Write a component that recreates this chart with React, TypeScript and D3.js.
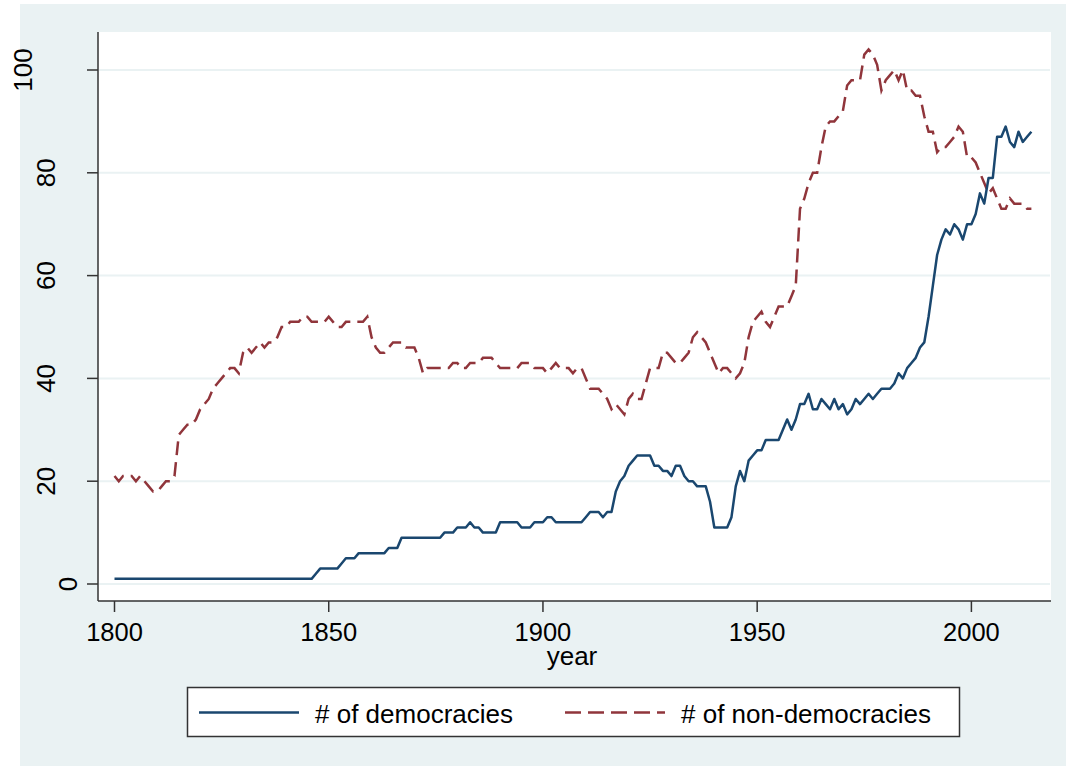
import React, { useRef, useEffect } from 'react';
import * as d3 from 'd3';

// yearly counts, 1800..2014
const startYear = 1800;

const democracies = [
  1, 1, 1, 1, 1, 1, 1, 1, 1, 1,
  1, 1, 1, 1, 1, 1, 1, 1, 1, 1,
  1, 1, 1, 1, 1, 1, 1, 1, 1, 1,
  1, 1, 1, 1, 1, 1, 1, 1, 1, 1,
  1, 1, 1, 1, 1, 1, 1, 2, 3, 3,
  3, 3, 3, 4, 5, 5, 5, 6, 6, 6,
  6, 6, 6, 6, 7, 7, 7, 9, 9, 9,
  9, 9, 9, 9, 9, 9, 9, 10, 10, 10,
  11, 11, 11, 12, 11, 11, 10, 10, 10, 10,
  12, 12, 12, 12, 12, 11, 11, 11, 12, 12,
  12, 13, 13, 12, 12, 12, 12, 12, 12, 12,
  13, 14, 14, 14, 13, 14, 14, 18, 20, 21,
  23, 24, 25, 25, 25, 25, 23, 23, 22, 22,
  21, 23, 23, 21, 20, 20, 19, 19, 19, 16,
  11, 11, 11, 11, 13, 19, 22, 20, 24, 25,
  26, 26, 28, 28, 28, 28, 30, 32, 30, 32,
  35, 35, 37, 34, 34, 36, 35, 34, 36, 34,
  35, 33, 34, 36, 35, 36, 37, 36, 37, 38,
  38, 38, 39, 41, 40, 42, 43, 44, 46, 47,
  52, 58, 64, 67, 69, 68, 70, 69, 67, 70,
  70, 72, 76, 74, 79, 79, 87, 87, 89, 86,
  85, 88, 86, 87, 88,
];

const nonDemocracies = [
  21, 20, 21, 21, 21, 20, 21, 20, 19, 18,
  18, 19, 20, 20, 21, 29, 30, 31, 31, 32,
  34, 35, 36, 38, 39, 40, 41, 42, 42, 41,
  45, 46, 45, 46, 47, 46, 47, 47, 48, 50,
  50, 51, 51, 51, 52, 52, 51, 51, 51, 51,
  52, 51, 50, 50, 51, 51, 51, 51, 51, 52,
  48, 46, 45, 45, 46, 47, 47, 47, 46, 46,
  46, 44, 41, 42, 42, 42, 42, 42, 42, 43,
  43, 42, 42, 43, 43, 43, 44, 44, 44, 43,
  42, 42, 42, 42, 42, 43, 43, 43, 42, 42,
  42, 41, 42, 43, 42, 42, 42, 41, 42, 42,
  40, 38, 38, 38, 37, 36, 34, 35, 34, 33,
  36, 37, 36, 36, 39, 42, 42, 42, 45, 45,
  44, 43, 43, 44, 45, 48, 49, 48, 47, 45,
  43, 41, 42, 42, 41, 40, 41, 43, 48, 51,
  52, 53, 51, 50, 52, 54, 54, 54, 56, 58,
  73, 75, 78, 80, 80, 85, 89, 90, 90, 91,
  92, 97, 98, 98, 98, 103, 104, 103, 101, 96,
  98, 99, 100, 98, 100, 96, 96, 95, 95, 91,
  88, 88, 84, 85, 85, 86, 87, 89, 88, 83,
  83, 82, 80, 78, 76, 77, 75, 73, 73, 75,
  74, 74, 74, 73, 73,
];

const xTicks = [1800, 1850, 1900, 1950, 2000];
const yTicks = [0, 20, 40, 60, 80, 100];
const seriesLabels = ['# of democracies', '# of non-democracies'];

const FONT = '"Liberation Sans", Arial, sans-serif';

const App: React.FC = () => {
  const ref = useRef<SVGSVGElement>(null);

  useEffect(() => {
    if (!ref.current) return;
    const svg = d3.select(ref.current);
    svg.selectAll('*').remove();

    const plot = { left: 98, right: 1051, top: 32, bottom: 601 };

    const x = d3.scaleLinear().domain([1800, 2000]).range([114.5, 971.4]);
    const y = d3.scaleLinear().domain([0, 100]).range([584, 70]);

    const years = d3.range(startYear, startYear + democracies.length);

    // outer graph region
    svg.append('rect')
      .attr('x', 20).attr('y', 4)
      .attr('width', 1046).attr('height', 762)
      .attr('fill', '#eaf2f3');

    svg.append('rect')
      .attr('x', plot.left).attr('y', plot.top)
      .attr('width', plot.right - plot.left)
      .attr('height', plot.bottom - plot.top)
      .attr('fill', '#ffffff');

    // grid
    svg.append('g').selectAll('line')
      .data(yTicks)
      .enter().append('line')
      .attr('x1', plot.left + 1).attr('x2', plot.right - 1)
      .attr('y1', d => y(d)).attr('y2', d => y(d))
      .attr('stroke', '#eaf2f3')
      .attr('stroke-width', 2);

    // series
    const line = d3.line<number>()
      .x((_, i) => x(years[i]))
      .y(d => y(d));

    svg.append('path')
      .datum(nonDemocracies)
      .attr('d', line)
      .attr('fill', 'none')
      .attr('stroke', '#90353b')
      .attr('stroke-width', 2.5)
      .attr('stroke-dasharray', '14 7');

    svg.append('path')
      .datum(democracies)
      .attr('d', line)
      .attr('fill', 'none')
      .attr('stroke', '#1a476f')
      .attr('stroke-width', 2.5)
      .attr('stroke-linejoin', 'round');

    // axes
    const axisColor = '#333333';
    svg.append('line')
      .attr('x1', plot.left).attr('x2', plot.left)
      .attr('y1', plot.top).attr('y2', plot.bottom)
      .attr('stroke', axisColor).attr('stroke-width', 1.5);
    svg.append('line')
      .attr('x1', plot.left).attr('x2', plot.right)
      .attr('y1', plot.bottom).attr('y2', plot.bottom)
      .attr('stroke', axisColor).attr('stroke-width', 1.5);

    const yt = svg.append('g');
    yt.selectAll('line')
      .data(yTicks)
      .enter().append('line')
      .attr('x1', plot.left - 11).attr('x2', plot.left)
      .attr('y1', d => y(d)).attr('y2', d => y(d))
      .attr('stroke', axisColor).attr('stroke-width', 1.5);
    yt.selectAll('text')
      .data(yTicks)
      .enter().append('text')
      .attr('transform', d => {
        const bx = 77 - (String(d).length - 1) * 22.5;
        return `translate(${bx},${y(d)}) rotate(-90)`;
      })
      .attr('text-anchor', 'middle')
      .attr('font-family', FONT)
      .attr('font-size', 26)
      .attr('fill', '#000')
      .text(d => d);

    const xt = svg.append('g');
    xt.selectAll('line')
      .data(xTicks)
      .enter().append('line')
      .attr('x1', d => x(d)).attr('x2', d => x(d))
      .attr('y1', plot.bottom).attr('y2', plot.bottom + 11)
      .attr('stroke', axisColor).attr('stroke-width', 1.5);
    xt.selectAll('text')
      .data(xTicks)
      .enter().append('text')
      .attr('x', d => x(d))
      .attr('y', 641)
      .attr('text-anchor', 'middle')
      .attr('font-family', FONT)
      .attr('font-size', 25.5)
      .attr('fill', '#000')
      .text(d => d);

    svg.append('text')
      .attr('x', 572).attr('y', 665)
      .attr('text-anchor', 'middle')
      .attr('font-family', FONT)
      .attr('font-size', 26)
      .attr('fill', '#000')
      .text('year');

    // legend
    const lg = svg.append('g');
    lg.append('rect')
      .attr('x', 187.5).attr('y', 687.5)
      .attr('width', 772).attr('height', 49)
      .attr('fill', '#ffffff')
      .attr('stroke', axisColor).attr('stroke-width', 1.5);

    const items = [
      { x0: 199, label: seriesLabels[0], color: '#1a476f', dash: null },
      { x0: 565, label: seriesLabels[1], color: '#90353b', dash: '16 7' },
    ];
    items.forEach(it => {
      const l = lg.append('line')
        .attr('x1', it.x0).attr('x2', it.x0 + 100)
        .attr('y1', 712.5).attr('y2', 712.5)
        .attr('stroke', it.color).attr('stroke-width', 2.5);
      if (it.dash) l.attr('stroke-dasharray', it.dash);
      lg.append('text')
        .attr('x', it.x0 + 116).attr('y', 722.5)
        .attr('font-family', FONT)
        .attr('font-size', 26)
        .attr('fill', '#000')
        .text(it.label);
    });
  }, []);

  return (
    <svg
      ref={ref}
      width={1066}
      height={769}
      style={{ position: 'absolute', left: 0, top: 0, background: '#ffffff' }}
    />
  );
};

export default App;
